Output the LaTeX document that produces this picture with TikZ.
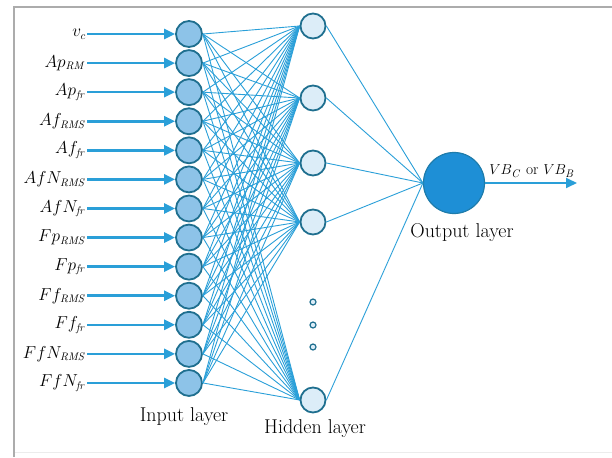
\documentclass[tikz,border=0pt]{standalone}
\usetikzlibrary{arrows.meta}

\definecolor{netblue}{HTML}{2A9FD8}
\definecolor{ringblue}{HTML}{1F6F8F}
\definecolor{infill}{HTML}{8DC3E8}
\definecolor{hidfill}{HTML}{DCEDF8}
\definecolor{outfill}{HTML}{1E8FD6}

\tikzset{
  inneuron/.style={circle, draw=ringblue, fill=infill, line width=1.8pt, minimum size=26pt, inner sep=0pt},
  hidneuron/.style={circle, draw=ringblue, fill=hidfill, line width=1.8pt, minimum size=25pt, inner sep=0pt},
  dotneuron/.style={circle, draw=ringblue, fill=hidfill, line width=1.2pt, minimum size=6pt, inner sep=0pt},
  outneuron/.style={circle, draw=ringblue!60!outfill, fill=outfill, line width=1.2pt, minimum size=61pt, inner sep=0pt},
  link/.style={netblue, line width=0.9pt},
  feed/.style={netblue, line width=2.6pt, -{Triangle[length=11pt,width=10pt]}},
  varlabel/.style={anchor=east, inner sep=1pt, font=\fontsize{16}{18}\selectfont},
  layerlabel/.style={font=\fontsize{20}{22}\selectfont},
}

\begin{document}
\begin{tikzpicture}[x=1pt, y=-1pt]
  \useasboundingbox (0,0) rectangle (612,457);

  % Marco
  \draw[gray!15, line width=1pt] (14,452) -- (612,452);
  \draw[gray!65, line width=1.5pt] (14,457) -- (14,7) -- (612,7);

  % Capa de entrada
  \foreach \lab [count=\i] in {v_c, Ap_{\mathit{RM}}, Ap_{\mathit{fr}}, Af_{\mathit{RMS}}, Af_{\mathit{fr}},
      AfN_{\mathit{RMS}}, AfN_{\mathit{fr}}, Fp_{\mathit{RMS}}, Fp_{\mathit{fr}}, Ff_{\mathit{RMS}},
      Ff_{\mathit{fr}}, FfN_{\mathit{RMS}}, FfN_{\mathit{fr}}}
  {
    \node[inneuron] (i\i) at (189, {34+29.08*(\i-1)}) {};
    \node[varlabel] (l\i) at (87, {34+29.08*(\i-1)}) {$\lab$};
    \draw[feed] (l\i.east) -- (i\i.west);
  }

  % Capa oculta
  \foreach \y [count=\j] in {26,98,163,222,400}
    \node[hidneuron] (h\j) at (313,\y) {};
  \foreach \y [count=\k] in {302,325,347}
    \node[dotneuron] (d\k) at (313,\y) {};

  % Capa de salida
  \node[outneuron] (o) at (454,183) {};
  \coordinate (y) at (577,183);
  \draw[feed, line width=1.8pt] (o.east) -- (y);
  \node[varlabel, anchor=center, font=\fontsize{15.5}{17}\selectfont] (vb) at (532,171) {$VB_{\mathit{C}}$ or $VB_{\mathit{B}}$};

  % Conexiones
  \foreach \i in {1,...,13}
    \foreach \j in {1,...,5}
      \draw[link] (i\i.east) -- (h\j.west);
  \foreach \j in {1,...,5}
    \draw[link] (h\j.east) -- (o.west);

  % Etiquetas
  \node[layerlabel] (inlab) at (184,417) {Input layer};
  \node[layerlabel] (hidlab) at (315,429) {Hidden layer};
  \node[layerlabel] (outlab) at (462,233) {Output layer};
\end{tikzpicture}
\end{document}
